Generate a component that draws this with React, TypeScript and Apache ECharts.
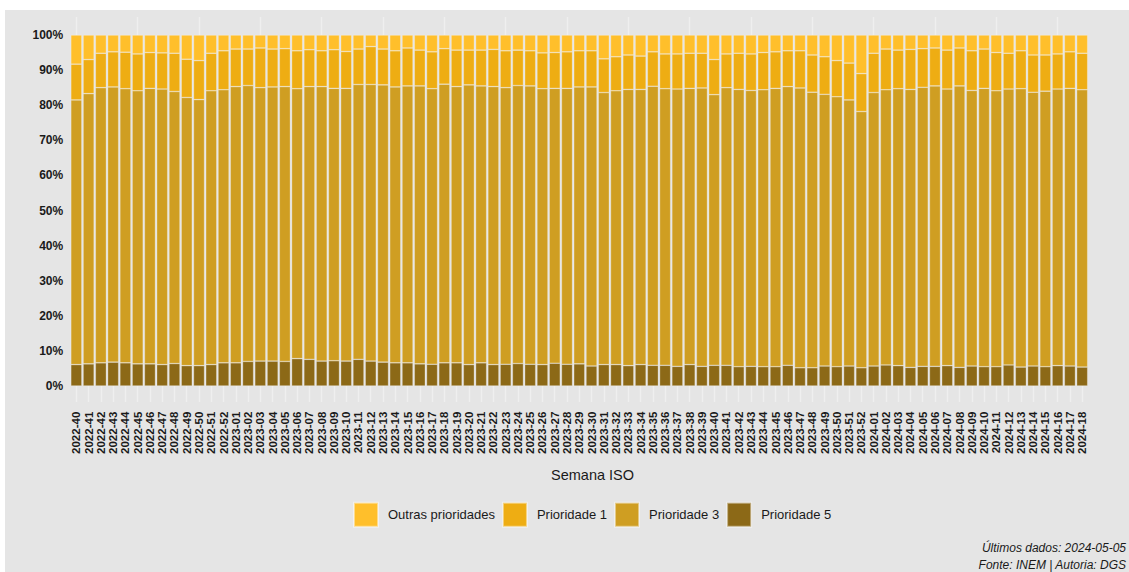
import React, { useEffect, useRef } from "react";
import * as echarts from "echarts";

const weeks: string[] = [
  "2022-40","2022-41","2022-42","2022-43","2022-44","2022-45","2022-46","2022-47","2022-48","2022-49","2022-50","2022-51","2022-52",
  "2023-01","2023-02","2023-03","2023-04","2023-05","2023-06","2023-07","2023-08","2023-09","2023-10","2023-11","2023-12","2023-13",
  "2023-14","2023-15","2023-16","2023-17","2023-18","2023-19","2023-20","2023-21","2023-22","2023-23","2023-24","2023-25","2023-26",
  "2023-27","2023-28","2023-29","2023-30","2023-31","2023-32","2023-33","2023-34","2023-35","2023-36","2023-37","2023-38","2023-39",
  "2023-40","2023-41","2023-42","2023-43","2023-44","2023-45","2023-46","2023-47","2023-48","2023-49","2023-50","2023-51","2023-52",
  "2024-01","2024-02","2024-03","2024-04","2024-05","2024-06","2024-07","2024-08","2024-09","2024-10","2024-11","2024-12","2024-13",
  "2024-14","2024-15","2024-16","2024-17","2024-18",
];

const prioridade5: number[] = [
  6.1,6.3,6.6,6.8,6.6,6.3,6.3,6.1,6.4,5.8,
  5.8,6.1,6.6,6.6,7.0,7.1,7.1,7.0,7.8,7.6,
  7.1,7.2,7.1,7.6,7.1,6.8,6.6,6.6,6.3,6.2,
  6.6,6.6,6.1,6.6,6.1,6.2,6.4,6.2,6.1,6.5,
  6.2,6.3,5.7,6.1,6.1,5.8,6.1,5.9,5.9,5.6,
  6.1,5.6,5.9,5.9,5.5,5.6,5.5,5.5,5.9,5.2,
  5.2,5.7,5.5,5.7,5.2,5.7,6.0,5.8,5.3,5.6,
  5.6,5.8,5.3,5.7,5.5,5.5,6.0,5.4,5.7,5.5,
  5.8,5.7,5.4,
];

const prioridade3: number[] = [
  75.4,77.0,78.4,78.4,78.1,77.8,78.5,78.5,77.5,76.4,
  75.8,78.0,77.8,78.7,78.6,77.9,78.1,78.3,76.9,77.7,
  78.2,77.6,77.7,78.3,78.8,79.0,78.6,78.9,79.2,78.5,
  79.4,78.7,79.7,78.9,79.2,78.8,79.2,79.3,78.6,78.3,
  78.6,78.9,79.5,77.5,78.0,78.7,78.4,79.5,78.8,79.0,
  78.7,79.3,77.1,79.1,79.0,78.6,78.9,79.3,79.4,79.7,
  78.5,77.4,76.9,75.8,73.0,77.9,78.4,78.9,79.2,79.5,
  79.9,78.8,80.2,78.5,79.3,78.6,78.6,79.3,78.0,78.5,
  78.8,79.1,79.0,
];

const prioridade1: number[] = [
  10.2,9.7,9.8,10.0,10.4,10.5,10.2,10.3,10.9,10.9,
  11.1,10.7,11.1,10.7,10.4,11.3,10.8,10.8,10.8,10.5,
  10.2,11.0,10.5,10.1,10.8,10.2,10.3,10.8,10.2,10.5,
  10.1,10.4,9.9,10.2,10.6,10.5,10.1,10.0,10.2,10.2,
  10.4,10.3,10.3,9.6,9.7,9.8,9.5,9.8,9.9,10.0,
  10.0,9.9,10.0,9.6,10.3,10.4,10.6,10.4,10.2,10.6,
  10.6,10.7,10.3,10.5,10.8,11.2,11.6,11.0,11.4,11.0,
  10.8,11.1,10.8,11.3,11.2,10.9,10.2,10.8,10.6,10.3,
  10.0,10.4,10.4,
];

const outras: number[] = [
  8.3,7.0,5.2,4.8,4.9,5.4,5.0,5.1,5.2,6.9,
  7.3,5.2,4.5,4.0,4.0,3.7,4.0,3.9,4.5,4.2,
  4.5,4.2,4.7,4.0,3.3,4.0,4.5,3.7,4.3,4.8,
  3.9,4.3,4.3,4.3,4.1,4.5,4.3,4.5,5.1,5.0,
  4.8,4.5,4.5,6.8,6.2,5.7,6.0,4.8,5.4,5.4,
  5.2,5.2,7.0,5.4,5.2,5.4,5.0,4.8,4.5,4.5,
  5.7,6.2,7.3,8.0,11.0,5.2,4.0,4.3,4.1,3.9,
  3.7,4.3,3.7,4.5,4.0,5.0,5.2,4.5,5.7,5.7,
  5.4,4.8,5.2,
];

const seriesNames = ["Prioridade 5", "Prioridade 3", "Prioridade 1", "Outras prioridades"];
const seriesColors = ["#8C6917", "#CF9E22", "#EEAD13", "#FFBF2B"];
const legendOrder = ["Outras prioridades", "Prioridade 1", "Prioridade 3", "Prioridade 5"];

const FONT = "'Liberation Sans', Arial, sans-serif";

export default function App() {
  const ref = useRef<HTMLDivElement>(null);

  useEffect(() => {
    if (!ref.current) return;
    const chart = echarts.init(ref.current, undefined, { renderer: "svg" });
    const dataSets = [prioridade5, prioridade3, prioridade1, outras];

    const option: any = {
      animation: false,
      backgroundColor: "#e5e5e5",
      textStyle: { fontFamily: FONT },
      grid: { left: 65.2, top: 25, width: 1018.1, height: 351, containLabel: false },
      legend: {
        data: legendOrder,
        left: 348,
        top: 491.7,
        padding: 0,
        orient: "horizontal",
        itemWidth: 24,
        itemHeight: 24,
        itemGap: 7,
        icon: "rect",
        selectedMode: false,
        textStyle: { fontFamily: FONT, fontSize: 13, color: "#1a1a1a", padding: [0, 0, 0, 5] },
      },
      xAxis: [
        {
          type: "category",
          data: weeks,
          position: "bottom",
          boundaryGap: true,
          axisLine: { show: false },
          axisTick: {
            show: true,
            alignWithLabel: true,
            inside: false,
            length: 16,
            lineStyle: { color: "#efefef", width: 1.3 },
          },
          axisLabel: {
            interval: 0,
            rotate: 90,
            margin: 25.7,
            fontFamily: FONT,
            fontSize: 11.5,
            fontWeight: "bold",
            color: "#1a1a1a",
          },
          splitLine: { show: false },
        },
        {
          type: "category",
          data: weeks,
          position: "top",
          boundaryGap: true,
          axisLine: { show: false },
          axisTick: {
            show: true,
            alignWithLabel: true,
            inside: false,
            length: 18,
            lineStyle: { color: "#efefef", width: 1.3 },
          },
          axisLabel: { show: false },
          splitLine: { show: false },
        },
      ],
      yAxis: {
        type: "value",
        min: 0,
        max: 100,
        interval: 10,
        axisLine: { show: false },
        axisTick: { show: false },
        splitLine: { show: false },
        axisLabel: {
          formatter: "{value}%",
          margin: 7,
          fontFamily: FONT,
          fontSize: 12,
          fontWeight: "bold",
          color: "#1a1a1a",
        },
      },
      graphic: [
        {
          type: "text",
          x: 587.5,
          y: 465,
          style: {
            text: "Semana ISO",
            fontFamily: FONT,
            fontSize: 14.5,
            fill: "#1a1a1a",
            textAlign: "center",
            textVerticalAlign: "middle",
          },
        },
        {
          type: "text",
          x: 1121,
          y: 537.5,
          style: {
            text: "Últimos dados: 2024-05-05",
            fontFamily: FONT,
            fontSize: 12,
            fontStyle: "italic",
            fill: "#1a1a1a",
            textAlign: "right",
            textVerticalAlign: "middle",
          },
        },
        {
          type: "text",
          x: 1121,
          y: 555,
          style: {
            text: "Fonte: INEM | Autoria: DGS",
            fontFamily: FONT,
            fontSize: 12,
            fontStyle: "italic",
            fill: "#1a1a1a",
            textAlign: "right",
            textVerticalAlign: "middle",
          },
        },
      ],
      series: seriesNames.map((name, i) => ({
        name,
        type: "bar",
        stack: "total",
        xAxisIndex: 0,
        barWidth: "90%",
        data: dataSets[i],
        itemStyle: {
          color: seriesColors[i],
          borderColor: "rgba(255,255,255,0.45)",
          borderWidth: 0.6,
        },
        emphasis: { disabled: true },
      })),
    };

    chart.setOption(option);
    return () => {
      chart.dispose();
    };
  }, []);

  return (
    <div
      style={{
        position: "fixed",
        left: 0,
        top: 0,
        width: 1129,
        height: 572,
        overflow: "hidden",
        background: "#ffffff",
      }}
    >
      <div
        ref={ref}
        style={{ position: "absolute", left: 5, top: 10, width: 1140, height: 562 }}
      />
    </div>
  );
}
